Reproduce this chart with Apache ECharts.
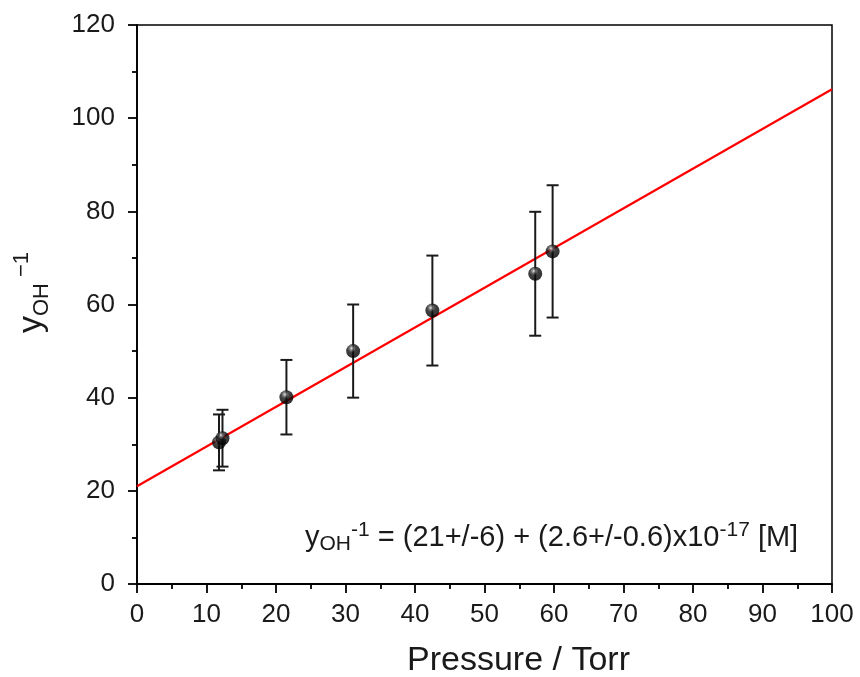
<!DOCTYPE html>
<html><head><meta charset="utf-8">
<script src="https://cdn.jsdelivr.net/npm/echarts@6/dist/echarts.min.js"></script>
<style>html,body{margin:0;padding:0;background:#fff}#c{width:860px;height:677px}</style>
</head><body><div id="c"></div>
<script>
var pressure = [11.8, 12.3, 21.5, 31.1, 42.5, 57.3, 59.8];
var yInv = [30.4, 31.3, 40.1, 50.0, 58.7, 66.6, 71.4];
var yErr = [6.0, 6.1, 8.0, 10.0, 11.8, 13.3, 14.2];
var fitX = [0, 100];
var fitY = [21, 106.2];
var xTicks = [0,10,20,30,40,50,60,70,80,90,100];
var yTicks = [0,20,40,60,80,100,120];

var chart = echarts.init(document.getElementById('c'));
var F = '"Liberation Sans", Arial, sans-serif';
var pts = pressure.map(function(x,i){return [x, yInv[i]];});
var errs = pressure.map(function(x,i){return [x, yInv[i]-yErr[i], yInv[i]+yErr[i]];});
var fit = fitX.map(function(x,i){return [x, fitY[i]];});

chart.setOption({
  animation:false,
  grid:{left:137,right:28,top:25,bottom:93,containLabel:false,outerBoundsMode:'none',
    show:true,borderColor:'#000',borderWidth:1.5,backgroundColor:'transparent'},
  xAxis:{type:'value',min:0,max:100,interval:10,
    name:'Pressure / Torr',nameLocation:'middle',nameGap:60,
    nameTextStyle:{fontFamily:F,fontSize:34,color:'#1a1a1a',padding:[0,0,0,68]},
    axisLine:{show:true,lineStyle:{color:'#000',width:1.8}},
    axisTick:{show:true,inside:false,length:9,lineStyle:{color:'#000',width:1.8}},
    minorTick:{show:true,splitNumber:2,length:5,lineStyle:{color:'#000',width:1.8}},
    axisLabel:{fontFamily:F,fontSize:26,color:'#1a1a1a',margin:18,
      formatter:function(v){return xTicks.indexOf(v)>=0?String(v):'';}},
    splitLine:{show:false}},
  yAxis:{type:'value',min:0,max:120,interval:20,
    name:'y{sub|OH}{sup|−1}',nameLocation:'middle',nameGap:84,nameRotate:90,
    nameTextStyle:{fontFamily:F,fontSize:34,color:'#1a1a1a',padding:[0,0,0,24],
      rich:{sub:{fontFamily:F,fontSize:22,color:'#1a1a1a',verticalAlign:'bottom',padding:[14,0,0,0]},
            sup:{fontFamily:F,fontSize:22,color:'#1a1a1a',verticalAlign:'top',padding:[0,0,20,6]}}},
    axisLine:{show:true,lineStyle:{color:'#000',width:1.8}},
    axisTick:{show:true,inside:false,length:9,lineStyle:{color:'#000',width:1.8}},
    minorTick:{show:true,splitNumber:2,length:5,lineStyle:{color:'#000',width:1.8}},
    axisLabel:{fontFamily:F,fontSize:26,color:'#1a1a1a',margin:22,
      formatter:function(v){return yTicks.indexOf(v)>=0?String(v):'';}},
    splitLine:{show:false}},
  series:[
    {type:'line',data:fit,symbol:'none',lineStyle:{color:'#ff0000',width:2.2},z:3},
    {type:'custom',data:errs,z:4,
      renderItem:function(params,api){
        var x=api.value(0),lo=api.value(1),hi=api.value(2);
        var p1=api.coord([x,lo]),p2=api.coord([x,hi]);
        var w=6;
        var st={stroke:'#1a1a1a',lineWidth:2};
        return {type:'group',children:[
          {type:'line',shape:{x1:p1[0],y1:p1[1],x2:p2[0],y2:p2[1]},style:st},
          {type:'line',shape:{x1:p1[0]-w,y1:p1[1],x2:p1[0]+w,y2:p1[1]},style:st},
          {type:'line',shape:{x1:p2[0]-w,y1:p2[1],x2:p2[0]+w,y2:p2[1]},style:st}
        ]};
      }},
    {type:'scatter',data:pts,symbol:'circle',symbolSize:14,z:5,
      itemStyle:{color:new echarts.graphic.RadialGradient(0.4,0.3,0.65,[
        {offset:0,color:'#f0f0f0'},{offset:0.18,color:'#777'},{offset:0.45,color:'#111'},{offset:1,color:'#000'}])}}
  ],
  graphic:[{type:'text',left:305,top:520,z:10,
    style:{text:'y{sub|OH}{sup|-1} = (21+/-6) + (2.6+/-0.6)x10{sup|-17} [M]',
      fontFamily:F,fontSize:29,fill:'#1a1a1a',
      rich:{sub:{fontFamily:F,fontSize:21,fill:'#1a1a1a',padding:[14,0,0,0]},
            sup:{fontFamily:F,fontSize:21,fill:'#1a1a1a',padding:[0,0,14,0]}}}}]
});
</script></body></html>
